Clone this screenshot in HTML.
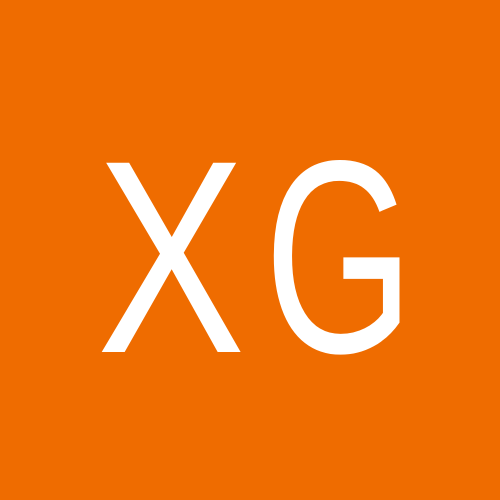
<!DOCTYPE html>
<html><head><meta charset="utf-8"><style>
html,body{margin:0;padding:0;width:500px;height:500px;overflow:hidden;background:#EF6C00}
</style></head><body>
<svg width="500" height="500" viewBox="0 0 500 500">
<rect width="500" height="500" fill="#EF6C00"/>
<g fill="#ffffff" font-family="Liberation Sans, sans-serif" font-size="275">
<text transform="translate(171,352) scale(0.81,1)" text-anchor="middle">X</text>
<text transform="translate(339,352) scale(0.70,1)" text-anchor="middle">G</text>
</g>
</svg>
</body></html>
